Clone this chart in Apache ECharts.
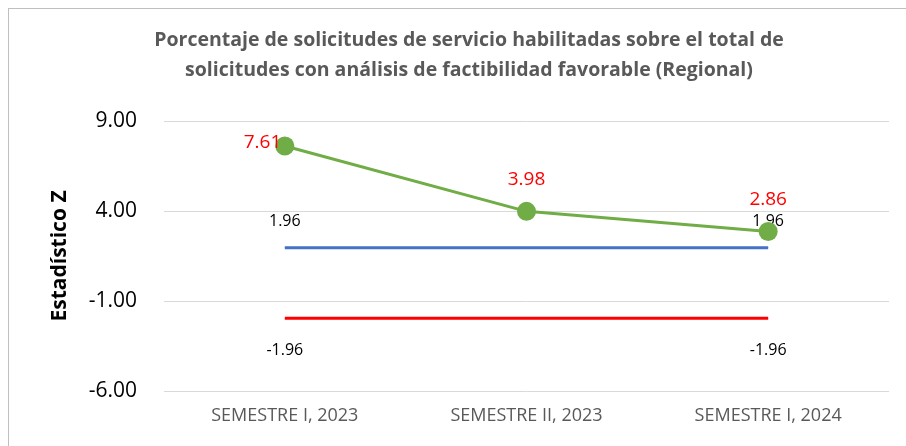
<!DOCTYPE html>
<html>
<head>
<meta charset="utf-8">
<script src="https://cdn.jsdelivr.net/npm/echarts@6/dist/echarts.min.js"></script>
<style>
  html, body { margin: 0; padding: 0; background: #fff; }
  #frame { position: absolute; left: 8px; top: 8px; width: 906px; height: 446px; border-left: 1px solid #bfbfbf; border-top: 1px solid #bfbfbf; }
  #chart { position: absolute; left: 0; top: 0; width: 906px; height: 446px; }
</style>
</head>
<body>
<div id="frame"></div>
<div id="chart"></div>
<script>
// datos del gráfico
const categorias = ['SEMESTRE I, 2023', 'SEMESTRE II, 2023', 'SEMESTRE I, 2024'];
const estadisticoZ = [7.61, 3.98, 2.86];
const limiteSuperior = [1.96, 1.96, 1.96];
const limiteInferior = [-1.96, -1.96, -1.96];
const ticksY = [-6, -1, 4, 9];

const font = '"Open Sans", "Noto Sans", sans-serif';

// solo se etiqueta el primer y el último punto de los límites
const etiquetaExtremos = p => (p.dataIndex === 0 || p.dataIndex === categorias.length - 1) ? p.value.toFixed(2) : '';

const chart = echarts.init(document.getElementById('chart'));
chart.setOption({
  animation: false,
  title: {
    text: 'Porcentaje de solicitudes de servicio habilitadas sobre el total de\nsolicitudes con análisis de factibilidad favorable (Regional)',
    left: 464,
    textAlign: 'center',
    top: 20,
    textStyle: { fontFamily: font, fontSize: 19.5, fontWeight: 'bold', color: '#595959', lineHeight: 30 }
  },
  grid: { left: 164, right: 17, top: 121, bottom: 55 },
  xAxis: {
    type: 'category',
    data: categorias,
    axisLine: { show: false },
    axisTick: { show: false },
    axisLabel: { fontFamily: font, fontSize: 18, color: '#595959', margin: 16 }
  },
  yAxis: {
    type: 'value',
    min: ticksY[0],
    max: ticksY[ticksY.length - 1],
    interval: 5,
    name: 'Estadístico Z',
    nameLocation: 'middle',
    nameRotate: 90,
    nameGap: 93,
    nameTextStyle: { fontFamily: font, fontSize: 21, fontWeight: 'bold', color: '#000' },
    axisLabel: { fontFamily: font, fontSize: 21, color: '#000', margin: 27, formatter: v => v.toFixed(2) },
    splitLine: { lineStyle: { color: '#d9d9d9', width: 1 } }
  },
  series: [
    {
      type: 'line',
      data: limiteSuperior,
      symbol: 'circle',
      symbolSize: 0.5,
      showAllSymbol: true,
      itemStyle: { color: '#4472C4' },
      lineStyle: { color: '#4472C4', width: 3 },
      label: { show: true, position: 'top', distance: 18, fontFamily: font, fontSize: 16, color: '#000', formatter: etiquetaExtremos },
      z: 2
    },
    {
      type: 'line',
      data: limiteInferior,
      symbol: 'circle',
      symbolSize: 0.5,
      showAllSymbol: true,
      itemStyle: { color: '#FF0000' },
      lineStyle: { color: '#FF0000', width: 3 },
      label: { show: true, position: 'bottom', distance: 24, fontFamily: font, fontSize: 16, color: '#000', formatter: etiquetaExtremos },
      z: 2
    },
    {
      type: 'line',
      data: estadisticoZ.map((v, i) => ({
        value: v,
        label: i === 0 ? { position: 'left', distance: 0, offset: [6, -3] } : {}
      })),
      symbol: 'circle',
      symbolSize: 19,
      itemStyle: { color: '#70AD47' },
      lineStyle: { color: '#70AD47', width: 3 },
      label: { show: true, position: 'top', distance: 13, fontFamily: font, fontSize: 19, color: '#FF0000', formatter: p => p.value.toFixed(2) },
      z: 3
    }
  ]
});
</script>
</body>
</html>
